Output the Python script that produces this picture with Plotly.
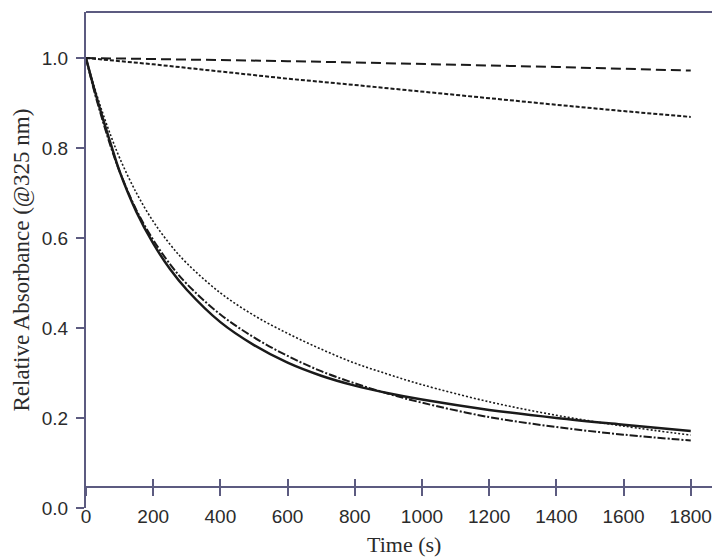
import plotly.graph_objects as go

# ---- data ----
time_fast = [0, 25, 50, 75, 100, 150, 200, 250, 300, 400, 500, 600, 700, 800,
             900, 1000, 1200, 1400, 1600, 1800]
solid_vals = [1.0, 0.930, 0.866, 0.806, 0.748, 0.658, 0.588, 0.531, 0.485, 0.413,
              0.362, 0.323, 0.294, 0.272, 0.255, 0.241, 0.218, 0.200, 0.185, 0.171]
dashdot_vals = [1.0, 0.925, 0.860, 0.800, 0.748, 0.662, 0.596, 0.542, 0.498, 0.430,
                0.379, 0.338, 0.304, 0.277, 0.254, 0.234, 0.202, 0.180, 0.163, 0.150]
dotted_vals = [1.0, 0.935, 0.877, 0.825, 0.778, 0.700, 0.637, 0.586, 0.544, 0.478,
               0.428, 0.388, 0.353, 0.322, 0.297, 0.274, 0.236, 0.206, 0.182, 0.162]

time_slow = [0, 200, 400, 600, 800, 1000, 1200, 1400, 1600, 1800]
longdash_vals = [1.0, 0.998, 0.996, 0.993, 0.990, 0.987, 0.984, 0.980, 0.976, 0.972]
shortdash_vals = [1.0, 0.986, 0.970, 0.954, 0.940, 0.925, 0.910, 0.896, 0.882, 0.869]

x_ticks = [0, 200, 400, 600, 800, 1000, 1200, 1400, 1600, 1800]
y_ticks = [0.0, 0.2, 0.4, 0.6, 0.8, 1.0]

AXIS = "#5c5b80"
INK = "#1a1a1a"
LABEL = "#2b2b2b"
SANS = "Liberation Sans, Arial, sans-serif"
SERIF = "Liberation Serif, Times New Roman, serif"

fig = go.Figure()

fig.add_trace(go.Scatter(x=time_slow, y=longdash_vals, mode="lines",
                         line=dict(color=INK, width=2, dash="10px,5px"),
                         showlegend=False))
fig.add_trace(go.Scatter(x=time_slow, y=shortdash_vals, mode="lines",
                         line=dict(color=INK, width=2, dash="4px,2px"),
                         showlegend=False))
fig.add_trace(go.Scatter(x=time_fast, y=dotted_vals, mode="lines", line_shape="spline",
                         line=dict(color=INK, width=1.6, dash="2px,2px"),
                         showlegend=False))
fig.add_trace(go.Scatter(x=time_fast, y=dashdot_vals, mode="lines", line_shape="spline",
                         line=dict(color=INK, width=2, dash="8px,2px,2px,2px"),
                         showlegend=False))
fig.add_trace(go.Scatter(x=time_fast, y=solid_vals, mode="lines", line_shape="spline",
                         line=dict(color=INK, width=2.5),
                         showlegend=False))
# empty traces so the overlaid axes (baseline with crossing ticks) are drawn
fig.add_trace(go.Scatter(x=[], y=[], xaxis="x2", yaxis="y", mode="lines",
                         showlegend=False, hoverinfo="skip"))
fig.add_trace(go.Scatter(x=[], y=[], xaxis="x3", yaxis="y", mode="lines",
                         showlegend=False, hoverinfo="skip"))

XR = [0, 1893]
axis_pos = (500 - 479) / 496.0

fig.update_layout(
    width=720, height=557,
    margin=dict(l=78, r=6, t=4, b=57),
    paper_bgcolor="white", plot_bgcolor="white",
    xaxis=dict(range=XR, showgrid=False, zeroline=False, showline=False,
               anchor="free", position=5 / 496.0,
               tickvals=x_ticks, ticks="", tickfont=dict(family=SANS, size=19, color=LABEL)),
    xaxis2=dict(range=XR, overlaying="x", anchor="free", position=axis_pos,
                showgrid=False, zeroline=False, showline=True, linecolor=AXIS, linewidth=2,
                tickvals=x_ticks, ticks="outside", ticklen=8, tickwidth=2, tickcolor=AXIS,
                showticklabels=False),
    xaxis3=dict(range=XR, overlaying="x", anchor="free", position=axis_pos,
                showgrid=False, zeroline=False, showline=False,
                tickvals=x_ticks, ticks="inside", ticklen=8, tickwidth=2, tickcolor=AXIS,
                showticklabels=False),
    yaxis=dict(range=[0, 1.1022], showgrid=False, zeroline=False, showline=True,
               linecolor=AXIS, linewidth=2, mirror=True,
               tickvals=y_ticks, tickformat=".1f", ticks="outside", ticklen=8,
               tickwidth=2, tickcolor=AXIS, ticklabelstandoff=4,
               tickfont=dict(family=SANS, size=19, color=LABEL)),
    shapes=[dict(type="line", xref="paper", yref="paper", x0=0, x1=1, y0=1, y1=1,
                 line=dict(color=AXIS, width=2))],
    annotations=[
        dict(text="Relative Absorbance (@325 nm)", xref="paper", yref="paper",
             x=(12.5 - 78) / 636.0, y=0.5, xanchor="center", yanchor="middle",
             textangle=-90, showarrow=False, font=dict(family=SERIF, size=23, color=LABEL)),
        dict(text="Time (s)", xref="paper", yref="paper",
             x=0.5, y=(500 - 536) / 496.0, xanchor="center", yanchor="middle",
             showarrow=False, font=dict(family=SERIF, size=22, color=LABEL)),
    ],
)

fig.write_html("out.html")
